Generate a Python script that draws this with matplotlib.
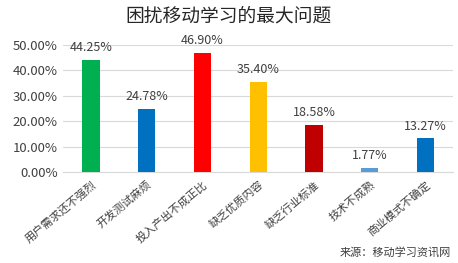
import matplotlib
matplotlib.use("Agg")
import matplotlib.pyplot as plt
from matplotlib.ticker import FuncFormatter

plt.rcParams['font.family'] = ['Noto Sans CJK SC', 'DejaVu Sans']

categories = ["用户需求还不强烈", "开发测试麻烦", "投入产出不成正比", "缺乏优质内容",
              "缺乏行业标准", "技术不成熟", "商业模式不确定"]
values = [44.25, 24.78, 46.90, 35.40, 18.58, 1.77, 13.27]
colors = ["#00B050", "#0070C0", "#FF0000", "#FFC000", "#C00000", "#5B9BD5", "#0070C0"]
yticks = [0, 10, 20, 30, 40, 50]

fig = plt.figure(figsize=(4.58, 2.63), dpi=100)
ax = fig.add_axes([0.138, 0.346, 0.852, 0.483])

x = range(len(categories))
ax.bar(x, values, width=0.31, color=colors, zorder=3)
for xi, v in zip(x, values):
    ax.text(xi, v + 2.2, f"{v:.2f}%", ha="center", va="bottom", fontsize=9, color="#404040")

ax.set_ylim(0, 50)
ax.set_xlim(-0.5, len(categories) - 0.5)
ax.set_yticks(yticks)
ax.yaxis.set_major_formatter(FuncFormatter(lambda v, _: f"{v:.2f}%"))
ax.grid(axis="y", color="#D9D9D9", linewidth=0.8, zorder=0)
for s in ["top", "right", "left"]:
    ax.spines[s].set_visible(False)
ax.spines["bottom"].set_color("#D9D9D9")
ax.tick_params(axis="y", length=0, labelsize=9.5, labelcolor="#404040", pad=4)
ax.tick_params(axis="x", length=0, labelsize=8, labelcolor="#404040", pad=5)
ax.set_xticks(list(x))
ax.set_xticklabels(categories, rotation=40, ha="right", rotation_mode="anchor")

fig.text(0.5, 0.94, "困扰移动学习的最大问题", ha="center", va="center", fontsize=13.5, color="#262626")
fig.text(0.985, 0.04, "来源：移动学习资讯网", ha="right", va="center", fontsize=8, color="#404040")

fig.savefig("out.png", dpi=100)
